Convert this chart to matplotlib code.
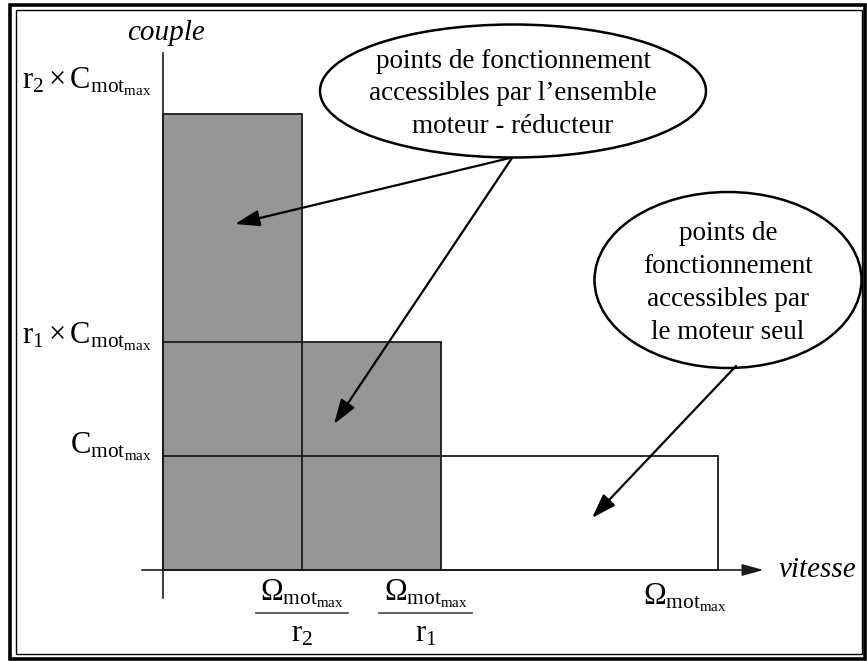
import matplotlib
matplotlib.use("Agg")
import matplotlib.pyplot as plt
from matplotlib.patches import Rectangle, Ellipse, FancyArrowPatch
from matplotlib.lines import Line2D

# valeurs reduites : C_mot_max = 1, Omega_mot_max = 1
c_max = 1.0
w_max = 1.0
rapports = [1, 2, 4]                      # moteur seul, r1, r2
noms_r = ["", "r_1", "r_2"]
remplissage = ["white", "#969696", "#969696"]

bulle1 = "points de fonctionnement\naccessibles par l\u2019ensemble\nmoteur - r\u00e9ducteur"
bulle2 = "points de\nfonctionnement\naccessibles par\nle moteur seul"

plt.rcParams["font.family"] = ["Liberation Serif", "DejaVu Serif"]
plt.rcParams["mathtext.fontset"] = "custom"
plt.rcParams["mathtext.rm"] = "Liberation Serif"
plt.rcParams["mathtext.it"] = "Liberation Serif:italic"

W, H = 867, 661
fig = plt.figure(figsize=(W / 100, H / 100), dpi=100)
ax = fig.add_axes([0, 0, 1, 1])
# origine des axes a (163, 570) px ; 555 px pour w_max, 114 px pour c_max
ax.set_xlim(-163 / 555, (W - 163) / 555)
ax.set_ylim(-(H - 570) / 114, 570 / 114)
ax.axis("off")


def px(x, y):
    return (x / W, 1 - y / H)


fs = 19.5
fs_it = 21
fs_math = 22
noir = "#1a1a1a"

# rectangles : d'abord les remplissages, puis les contours
for r, c in zip(rapports, remplissage):
    ax.add_patch(Rectangle((0, 0), w_max / r, r * c_max, facecolor=c,
                           edgecolor="none", zorder=1))
for r in rapports:
    ax.add_patch(Rectangle((0, 0), w_max / r, r * c_max, fill=False,
                           edgecolor=noir, lw=1.3, zorder=2))

# axes
ax.add_line(Line2D([0, 0], [-0.246, 4.535], color=noir, lw=1.2, zorder=3))
ax.add_patch(FancyArrowPatch((-0.038, 0), (1.082, 0), arrowstyle="-|>,head_length=13,head_width=3.6",
                             mutation_scale=1, color=noir, lw=1.2, shrinkA=0, shrinkB=0, zorder=3))
ax.text(0.006, 4.71, "couple", style="italic", fontsize=fs_it, ha="center", va="center")
ax.text(1.11, 0.0, "vitesse", style="italic", fontsize=fs_it, ha="left", va="center")

# graduations de l'axe des couples (lignes de base)
decal_y = [0.026, -0.01, 0.228]
for r, n, d in zip(rapports, noms_r, decal_y):
    lab = r"$\mathrm{C_{mot_{max}}}$" if n == "" else r"$\mathrm{%s \times C_{mot_{max}}}$" % n
    ax.text(-0.02, r * c_max + d, lab, fontsize=fs_math, ha="right", va="baseline")

# graduations de l'axe des vitesses
for r, n in zip(rapports, noms_r):
    x = w_max / r
    if n == "":
        ax.text(x - 0.06, -0.30, r"$\mathrm{\Omega_{mot_{max}}}$", fontsize=fs_math,
                ha="center", va="baseline")
        continue
    xc = x - 0.027 if r == 2 else x
    ax.text(xc, -0.27, r"$\mathrm{\Omega_{mot_{max}}}$", fontsize=fs_math, ha="center", va="baseline")
    ax.add_line(Line2D([xc - 0.083, xc + 0.083], [-0.38, -0.38], color="#555555", lw=1.3))
    ax.text(xc, -0.63, r"$\mathrm{%s}$" % n, fontsize=fs_math, ha="center", va="baseline")

# bulles
for (cx, cy, ew, eh), txt in [((513, 91, 386, 133), bulle1), ((728, 280, 267, 176), bulle2)]:
    fig.patches.append(Ellipse(px(cx, cy), ew / W, eh / H, transform=fig.transFigure,
                               facecolor="white", edgecolor="black", lw=1.8, zorder=4))
    fig.text(*px(cx, cy + 3), txt, fontsize=fs, ha="center", va="center",
             linespacing=1.42, zorder=5)

# fleches
for a, b in [((510, 158), (235, 224)), ((512, 158), (334, 424)), ((736, 366), (592, 518))]:
    fig.patches.append(FancyArrowPatch(px(*a), px(*b), transform=fig.transFigure,
                                       arrowstyle="-|>,head_length=15,head_width=5",
                                       mutation_scale=1, color="black", lw=1.6,
                                       shrinkA=0, shrinkB=0, zorder=6))

# double cadre
fig.patches.append(Rectangle(px(10, 659), 855 / W, 654 / H, transform=fig.transFigure,
                             fill=False, edgecolor="black", lw=2.6))
fig.patches.append(Rectangle(px(15.5, 653.5), 846 / W, 644 / H, transform=fig.transFigure,
                             fill=False, edgecolor="black", lw=1.0))

fig.savefig("out.png", dpi=100)
